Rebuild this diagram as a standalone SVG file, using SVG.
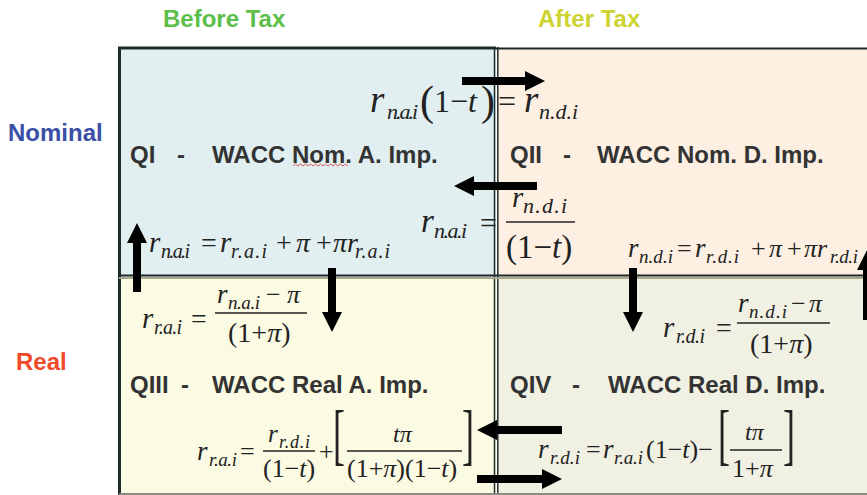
<svg xmlns="http://www.w3.org/2000/svg" width="867" height="495" viewBox="0 0 867 495">
<style>
.lbl{font-family:"Liberation Sans",Arial,sans-serif;font-weight:bold;font-size:24px}
.q{fill:#333333}
.m{font-family:"Liberation Serif","Times New Roman",serif;fill:#222222}
.i{font-style:italic}
.bar{stroke:#222222;stroke-width:1.5}
.arr{stroke:#000000;stroke-width:8;fill:none;marker-end:url(#ah)}
.bd{stroke:#1e2a2a;fill:none}
</style>
<defs>
<marker id="ah" markerUnits="userSpaceOnUse" markerWidth="22" markerHeight="22" viewBox="0 -11 22 22" refX="0" refY="0" orient="auto">
<path d="M0,-10 L20,0 L0,10 Z" fill="#000000"/>
</marker>
</defs>
<rect width="867" height="495" fill="#ffffff"/>
<g id="headers">
<text class="lbl" x="163" y="27" fill="#5cbf4a">Before Tax</text>
<text class="lbl" x="538" y="27" fill="#cdd330">After Tax</text>
<text class="lbl" x="8" y="141" fill="#3b4fa6">Nominal</text>
<text class="lbl" x="16" y="370" fill="#f04a2a">Real</text>
</g>
<g id="QI">
<rect x="119" y="48" width="377" height="229" fill="#e1eff1"/>
<text class="lbl q" y="163"><tspan x="130">QI</tspan><tspan x="177">-</tspan><tspan x="212">WACC Nom. A. Imp.</tspan></text>
<path d="M293,166 l2.5,-2 l2.5,2 l2.5,-2 l2.5,2 l2.5,-2 l2.5,2 l2.5,-2 l2.5,2 l2.5,-2 l2.5,2 l2.5,-2 l2.5,2 l2.5,-2 l2.5,2 l2.5,-2 l2.5,2 l2.5,-2 l2.5,2 l2.5,-2 l2.5,2 l2.5,-2 l2.5,2" stroke="#e03030" stroke-width="0.8" fill="none"/>
</g>
<g id="QII">
<rect x="497" y="48" width="370" height="229" fill="#fdf0e3"/>
<text class="lbl q" y="163"><tspan x="510">QII</tspan><tspan x="563">-</tspan><tspan x="597">WACC Nom. D. Imp.</tspan></text>
</g>
<g id="QIII">
<rect x="119" y="277" width="377" height="218" fill="#fbfbe3"/>
<text class="lbl q" y="393"><tspan x="130">QIII</tspan><tspan x="181">-</tspan><tspan x="212">WACC Real A. Imp.</tspan></text>
</g>
<g id="QIV">
<rect x="497" y="277" width="370" height="218" fill="#f0f0e3"/>
<text class="lbl q" y="393"><tspan x="510">QIV</tspan><tspan x="572">-</tspan><tspan x="608">WACC Real D. Imp.</tspan></text>
</g>
<g id="borders">
<line class="bd" x1="118" y1="48" x2="496" y2="48" stroke-width="3"/>
<line class="bd" x1="496" y1="48.5" x2="867" y2="48.5" stroke-width="2"/>
<line class="bd" x1="119.5" y1="47" x2="119.5" y2="495" stroke-width="3"/>
<line class="bd" x1="494.5" y1="47" x2="494.5" y2="495" stroke-width="1.5"/>
<line class="bd" x1="497.8" y1="47" x2="497.8" y2="495" stroke-width="1.5"/>
<line class="bd" x1="119" y1="275.5" x2="867" y2="275.5" stroke-width="2"/>
<line x1="119" y1="278" x2="867" y2="278" stroke="#a8a88c" stroke-width="2"/>
<line x1="119" y1="494" x2="867" y2="494" stroke="#8c8c80" stroke-width="2"/>
</g>
<g id="formulas">
<g id="f1">
<text class="m i" x="370" y="112" font-size="37">r</text>
<text class="m i" x="387" y="119" font-size="22" textLength="31">n.a.i</text>
<text class="m" x="420" y="115" font-size="42">(</text>
<text class="m" x="434" y="112" font-size="32">1−<tspan class="i">t</tspan></text>
<text class="m" x="481" y="115" font-size="42">)</text>
<text class="m" x="498" y="112" font-size="32">=</text>
<text class="m i" x="524" y="112" font-size="37">r</text>
<text class="m i" x="539" y="119" font-size="22" textLength="39">n.d.i</text>
</g>
<g id="f2">
<text class="m i" x="421" y="232" font-size="33">r</text>
<text class="m i" x="434" y="238" font-size="22" textLength="33">n.a.i</text>
<text class="m" x="480" y="233" font-size="30">=</text>
<text class="m i" x="512" y="207" font-size="29">r</text>
<text class="m i" x="523" y="213" font-size="22" textLength="44">n.d.i</text>
<line class="bar" x1="506" y1="222" x2="575" y2="222"/>
<text class="m" x="506" y="258" font-size="33">(1−<tspan class="i">t</tspan>)</text>
</g>
<g id="f3">
<text class="m i" x="149" y="252" font-size="29">r</text>
<text class="m i" x="161" y="258" font-size="20" textLength="29">n.a.i</text>
<text class="m" x="201" y="252" font-size="28">=</text>
<text class="m i" x="220" y="252" font-size="29">r</text>
<text class="m i" x="231" y="258" font-size="20" textLength="36">r.a.i</text>
<text class="m" x="276" y="252" font-size="28">+</text>
<text class="m i" x="296" y="252" font-size="28">π</text>
<text class="m" x="316" y="252" font-size="28">+</text>
<text class="m i" x="333" y="252" font-size="28">πr</text>
<text class="m i" x="355" y="258" font-size="20" textLength="35">r.a.i</text>
</g>
<g id="f4">
<text class="m i" x="628" y="257" font-size="27">r</text>
<text class="m i" x="639" y="263" font-size="19" textLength="34">n.d.i</text>
<text class="m" x="677" y="257" font-size="26">=</text>
<text class="m i" x="695" y="257" font-size="27">r</text>
<text class="m i" x="706" y="263" font-size="19" textLength="33">r.d.i</text>
<text class="m" x="751" y="257" font-size="26">+</text>
<text class="m i" x="769" y="257" font-size="26">π</text>
<text class="m" x="787" y="257" font-size="26">+</text>
<text class="m i" x="804" y="257" font-size="26">πr</text>
<text class="m i" x="830" y="263" font-size="19" textLength="28">r.d.i</text>
</g>
<g id="f5">
<text class="m i" x="142" y="328" font-size="29">r</text>
<text class="m i" x="154" y="334" font-size="20" textLength="28">r.a.i</text>
<text class="m" x="191" y="328" font-size="28">=</text>
<text class="m i" x="217" y="303" font-size="27">r</text>
<text class="m i" x="228" y="309" font-size="19" textLength="32">n.a.i</text>
<text class="m" x="266" y="303" font-size="26">−</text>
<text class="m i" x="287" y="303" font-size="26">π</text>
<line class="bar" x1="215" y1="313" x2="307" y2="313"/>
<text class="m" x="228" y="342" font-size="28">(1+<tspan class="i">π</tspan>)</text>
</g>
<g id="f6">
<text class="m i" x="663" y="337" font-size="29">r</text>
<text class="m i" x="676" y="343" font-size="20" textLength="29">r.d.i</text>
<text class="m" x="716" y="337" font-size="28">=</text>
<text class="m i" x="738" y="312" font-size="27">r</text>
<text class="m i" x="749" y="318" font-size="19" textLength="38">n.d.i</text>
<text class="m" x="791" y="312" font-size="26">−</text>
<text class="m i" x="809" y="312" font-size="26">π</text>
<line class="bar" x1="737" y1="323" x2="830" y2="323"/>
<text class="m" x="750" y="353" font-size="28">(1+<tspan class="i">π</tspan>)</text>
</g>
<g id="f7">
<text class="m i" x="197" y="460" font-size="27">r</text>
<text class="m i" x="209" y="466" font-size="19" textLength="28">r.a.i</text>
<text class="m" x="240" y="460" font-size="26">=</text>
<text class="m i" x="268" y="442" font-size="25">r</text>
<text class="m i" x="279" y="448" font-size="18" textLength="31">r.d.i</text>
<line class="bar" x1="263" y1="451" x2="315" y2="451"/>
<text class="m" x="263" y="477" font-size="26">(1−<tspan class="i">t</tspan>)</text>
<text class="m" x="319" y="460" font-size="26">+</text>
<text class="m" x="333" y="247" font-size="36" transform="scale(1,1.85)">[</text>
<text class="m i" x="393" y="442" font-size="24">tπ</text>
<line class="bar" x1="347" y1="451" x2="462" y2="451"/>
<text class="m" x="347" y="477" font-size="26">(1+<tspan class="i">π</tspan>)(1−<tspan class="i">t</tspan>)</text>
<text class="m" x="462" y="247" font-size="36" transform="scale(1,1.85)">]</text>
</g>
<g id="f8">
<text class="m i" x="538" y="458" font-size="27">r</text>
<text class="m i" x="550" y="464" font-size="19" textLength="30">r.d.i</text>
<text class="m" x="586" y="458" font-size="26">=</text>
<text class="m i" x="603" y="458" font-size="27">r</text>
<text class="m i" x="614" y="464" font-size="19" textLength="29">r.a.i</text>
<text class="m" x="646" y="458" font-size="26">(1−<tspan class="i">t</tspan>)−</text>
<text class="m" x="718" y="247" font-size="36" transform="scale(1,1.85)">[</text>
<text class="m i" x="745" y="440" font-size="24">tπ</text>
<line class="bar" x1="730" y1="450" x2="782" y2="450"/>
<text class="m" x="732" y="477" font-size="26">1+<tspan class="i">π</tspan></text>
<text class="m" x="783" y="247" font-size="36" transform="scale(1,1.85)">]</text>
</g>
</g>
<g id="connectors">
<line class="arr" x1="462" y1="81" x2="525" y2="81"/>
<line class="arr" x1="537" y1="186" x2="474" y2="186"/>
<line class="arr" x1="137" y1="292" x2="137" y2="243"/>
<line class="arr" x1="332" y1="268" x2="332" y2="312"/>
<line class="arr" x1="633" y1="268" x2="633" y2="312"/>
<line class="arr" x1="867" y1="320" x2="867" y2="270"/>
<line class="arr" x1="562" y1="430" x2="497" y2="430"/>
<line class="arr" x1="477" y1="479" x2="542" y2="479"/>
</g>
</svg>
